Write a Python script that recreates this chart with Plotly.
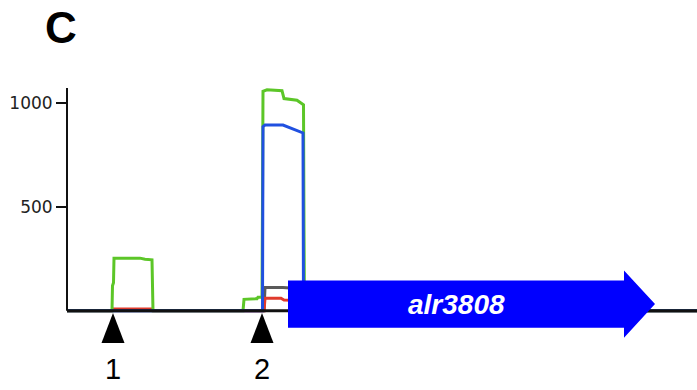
import plotly.graph_objects as go

# ---- data (x = genome position in arbitrary units along the locus) ----
green_x = [0, 45, 45.5, 46.5, 47, 73, 78, 85, 86, 176, 177, 190, 191, 195, 195.5, 196, 200, 215, 217, 230, 235, 236.5, 237, 237.5, 630]
green_y = [0, 0, 120, 135, 253, 253, 248, 245, 0, 0, 55, 58, 65, 65, 520, 1055, 1062, 1058, 1020, 1012, 995, 990, 400, 0, 0]

blue_x = [0, 195.5, 196, 198, 216, 221, 235, 236, 236.5, 630]
blue_y = [0, 0, 885, 893, 893, 884, 860, 855, 0, 0]

gray_x = [0, 197, 198, 216, 236, 237, 630]
gray_y = [0, 0, 112, 112, 105, 0, 0]

red_x = [0, 45, 46, 85, 86, 197, 198, 214, 217, 236, 237, 630]
red_y = [0, 0, 8, 8, 0, 0, 60, 60, 52, 50, 0, 0]

site_positions = [46, 195]
site_labels = ["1", "2"]

gene_name = "alr3808"
gene_start = 221
gene_end = 588

y_ticks = [500, 1000]
y_tick_labels = ["500", "1000"]

# ---- style ----
GREEN = "#5cc628"
BLUE = "#2050e0"
GRAY = "#5a5a5a"
RED = "#e03a2c"
ARROW = "#0000ff"

fig = go.Figure()
for xs, ys, col in [(gray_x, gray_y, GRAY), (red_x, red_y, RED),
                    (green_x, green_y, GREEN), (blue_x, blue_y, BLUE)]:
    fig.add_trace(go.Scatter(x=xs, y=ys, mode="lines",
                             line=dict(color=col, width=3),
                             hoverinfo="skip", showlegend=False))

shapes = []
# y axis line (only from 0 to top)
shapes.append(dict(type="line", xref="paper", yref="y", x0=0, x1=0, y0=0, y1=1071,
                   line=dict(color="#111111", width=2), layer="above"))
# baseline
shapes.append(dict(type="line", xref="x", yref="y", x0=0, x1=630, y0=0, y1=0,
                   line=dict(color="#111111", width=3), layer="above"))
# gene arrow
head_len = 31
cy = 32
body_h = 113
head_h = 162
hb = gene_end - head_len
path = (f"M {gene_start},{cy + body_h} L {hb},{cy + body_h} L {hb},{cy + head_h} "
        f"L {gene_end},{cy} L {hb},{cy - head_h} L {hb},{cy - body_h} "
        f"L {gene_start},{cy - body_h} Z")
shapes.append(dict(type="path", xref="x", yref="y", path=path,
                   fillcolor=ARROW, line=dict(width=0), layer="above"))
# site triangles
tri_hw = 11.5
tri_top = -11
tri_bot = -155
for p in site_positions:
    shapes.append(dict(type="path", xref="x", yref="y",
                       path=f"M {p},{tri_top} L {p + tri_hw},{tri_bot} L {p - tri_hw},{tri_bot} Z",
                       fillcolor="black", line=dict(width=0), layer="above"))

annotations = []
for p, lab in zip(site_positions, site_labels):
    annotations.append(dict(x=p, y=-280, xref="x", yref="y", text=lab, showarrow=False,
                            font=dict(family="Liberation Sans, Arial", size=29, color="black"),
                            xanchor="center", yanchor="middle"))
annotations.append(dict(x=(gene_start + gene_end) / 2 - 15, y=cy, xref="x", yref="y",
                        text=f"<b><i>{gene_name}</i></b>", showarrow=False,
                        font=dict(family="Liberation Sans, Arial", size=28, color="white"),
                        xanchor="center", yanchor="middle"))
annotations.append(dict(x=-0.0095, y=1.206, xref="paper", yref="paper", text="<b>C</b>",
                        showarrow=False,
                        font=dict(family="Liberation Sans, Arial", size=44, color="black"),
                        xanchor="center", yanchor="middle"))

fig.update_layout(
    width=697, height=390,
    margin=dict(l=67, r=0, t=88, b=6, pad=0),
    paper_bgcolor="white", plot_bgcolor="white",
    showlegend=False, hovermode=False,
    shapes=shapes, annotations=annotations,
    xaxis=dict(range=[0, 630], visible=False, fixedrange=True),
    yaxis=dict(range=[-352, 1071], showgrid=False, zeroline=False, showline=False,
               tickvals=y_ticks, ticktext=y_tick_labels, ticks="outside", ticklen=10,
               tickwidth=1.5, tickcolor="#111111",
               tickfont=dict(family="DejaVu Sans", size=17, color="#222222"),
               fixedrange=True),
)

fig.write_html("out.html", config={"displayModeBar": False, "staticPlot": True},
               post_script="document.body.style.margin='0';document.body.style.overflow='hidden';")
